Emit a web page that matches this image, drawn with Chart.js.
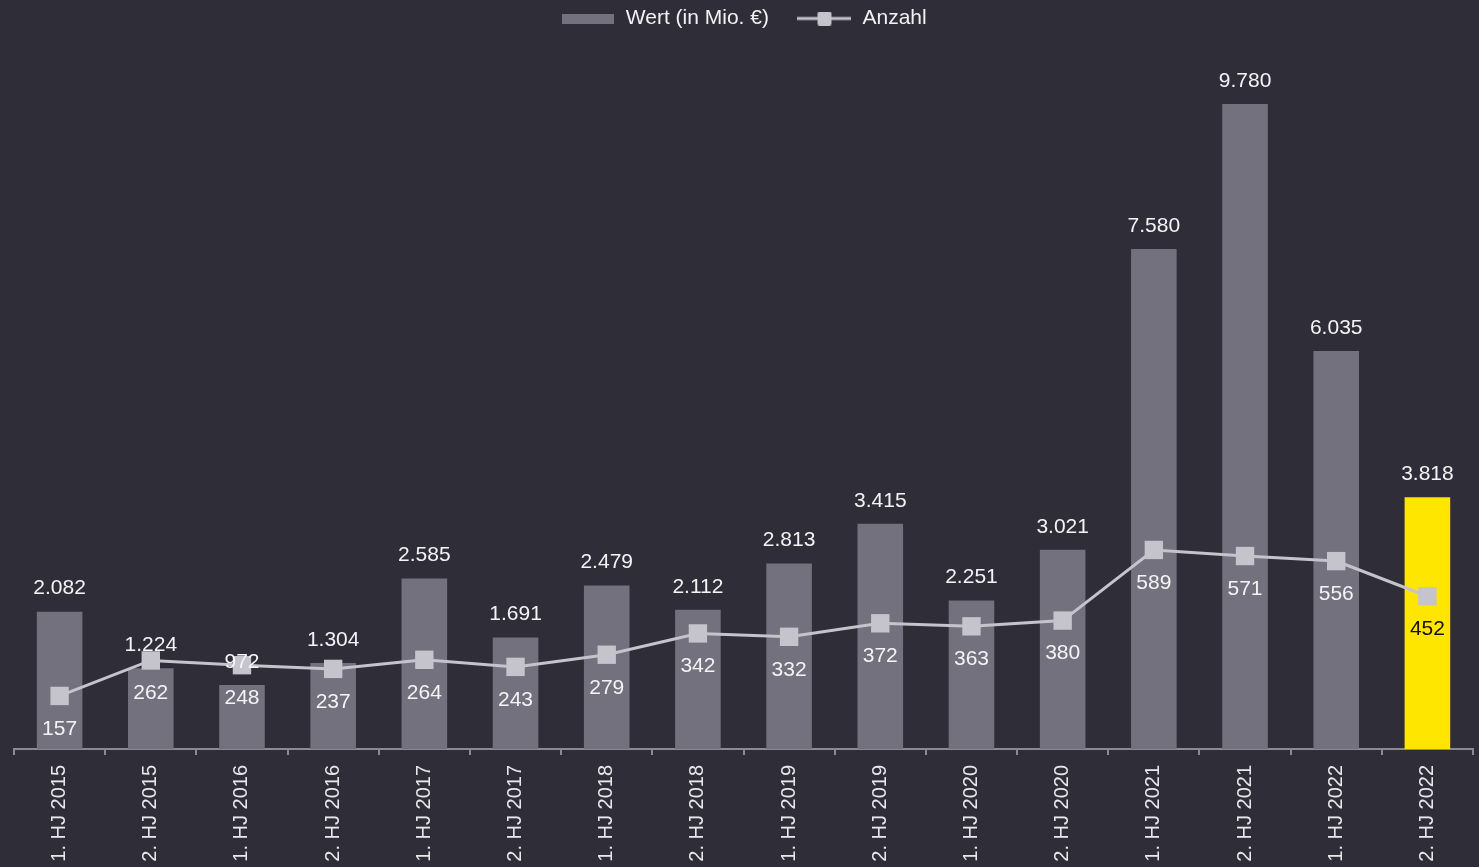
<!DOCTYPE html>
<html>
<head>
<meta charset="utf-8">
<script src="https://cdn.jsdelivr.net/npm/chart.js@4"></script>
<style>
  html, body { margin: 0; padding: 0; background: #2e2d38; overflow: hidden; }
  #wrap { width: 1479px; height: 867px; }
</style>
</head>
<body>
<div id="wrap"><canvas id="chart" width="1479" height="867"></canvas></div>
<script>
// chart data
const categories = [
  "1. HJ 2015", "2. HJ 2015", "1. HJ 2016", "2. HJ 2016",
  "1. HJ 2017", "2. HJ 2017", "1. HJ 2018", "2. HJ 2018",
  "1. HJ 2019", "2. HJ 2019", "1. HJ 2020", "2. HJ 2020",
  "1. HJ 2021", "2. HJ 2021", "1. HJ 2022", "2. HJ 2022"
];
const wertValues = [2082, 1224, 972, 1304, 2585, 1691, 2479, 2112, 2813, 3415, 2251, 3021, 7580, 9780, 6035, 3818];
const anzahlValues = [157, 262, 248, 237, 264, 243, 279, 342, 332, 372, 363, 380, 589, 571, 556, 452];

const BAR_GREY = "#72717d";
const HIGHLIGHT = "#ffe600";
const LINE_GREY = "#c5c4cc";
const highlightIndex = categories.length - 1;

Chart.defaults.font.family = "'Liberation Sans', Arial, sans-serif";

const fmt = (n) => String(n).replace(/\B(?=(\d{3})+(?!\d))/g, ".");

// legend swatches
function barSwatch() {
  const c = document.createElement("canvas");
  c.width = 52; c.height = 10;
  const g = c.getContext("2d");
  g.fillStyle = BAR_GREY;
  g.fillRect(0, 0, 52, 10);
  return c;
}
function lineSwatch() {
  const c = document.createElement("canvas");
  c.width = 54; c.height = 14;
  const g = c.getContext("2d");
  g.fillStyle = LINE_GREY;
  g.fillRect(0, 5.5, 54, 3);
  g.beginPath();
  g.roundRect(20, 0, 14, 14, 2);
  g.fill();
  return c;
}

// value labels above bars and below line points
const valueLabels = {
  id: "valueLabels",
  afterDatasetsDraw(chart) {
    const ctx = chart.ctx;
    ctx.save();
    ctx.font = "21px 'Liberation Sans', Arial, sans-serif";
    ctx.textAlign = "center";
    ctx.textBaseline = "middle";
    chart.getDatasetMeta(0).data.forEach((el, i) => {
      ctx.fillStyle = "#f4f4f6";
      ctx.fillText(fmt(wertValues[i]), el.x, el.y - 23);
    });
    chart.getDatasetMeta(1).data.forEach((el, i) => {
      ctx.fillStyle = i === highlightIndex ? "#111111" : "#f4f4f6";
      ctx.fillText(fmt(anzahlValues[i]), el.x, el.y + 33);
    });
    ctx.restore();
  }
};

new Chart(document.getElementById("chart"), {
  type: "bar",
  data: {
    labels: categories,
    datasets: [
      {
        type: "bar",
        label: "Wert (in Mio. €)",
        data: wertValues,
        yAxisID: "y",
        order: 1,
        backgroundColor: (c) => c.dataIndex === highlightIndex ? HIGHLIGHT : BAR_GREY,
        categoryPercentage: 1,
        barPercentage: 0.5
      },
      {
        type: "line",
        label: "Anzahl",
        data: anzahlValues,
        yAxisID: "y2",
        order: 0,
        borderColor: LINE_GREY,
        borderWidth: 3,
        backgroundColor: LINE_GREY,
        pointStyle: "rect",
        pointRadius: 13,
        pointHoverRadius: 13,
        pointBackgroundColor: LINE_GREY,
        pointBorderWidth: 0,
        tension: 0
      }
    ]
  },
  options: {
    responsive: false,
    animation: false,
    devicePixelRatio: 1,
    layout: { autoPadding: false, padding: { top: -20, left: 14, right: 6, bottom: 0 } },
    plugins: {
      tooltip: { enabled: false },
      legend: {
        position: "top",
        labels: {
          color: "#f2f2f4",
          font: { size: 21 },
          usePointStyle: true,
          pointStyleWidth: 55,
          padding: 28,
          generateLabels: () => [
            { text: "Wert (in Mio. €)", pointStyle: barSwatch(), datasetIndex: 0, fontColor: "#f2f2f4", lineWidth: 0 },
            { text: "Anzahl", pointStyle: lineSwatch(), datasetIndex: 1, fontColor: "#f2f2f4", lineWidth: 0 }
          ]
        }
      }
    },
    scales: {
      x: {
        offset: true,
        grid: { display: true, offset: true, drawOnChartArea: false, drawTicks: true, tickLength: 6, color: "#8a8994", lineWidth: 2 },
        border: { display: true, color: "#8a8994", width: 2 },
        ticks: { color: "#e8e8ec", font: { size: 20 }, minRotation: 90, maxRotation: 90, padding: 10, autoSkip: false },
        // fixed axis height; the labels run off the bottom edge as in the original
        afterFit: (s) => { s.height = 118; }
      },
      y: { display: false, min: 0, max: 10766 },
      y2: { display: false, min: 0, max: 2101, position: "right" }
    }
  },
  plugins: [valueLabels]
});
</script>
</body>
</html>
